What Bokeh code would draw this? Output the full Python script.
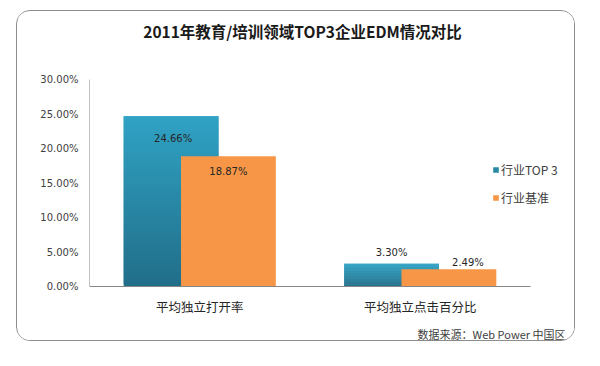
from bokeh.plotting import figure
from bokeh.models import (ColumnDataSource, Range1d, FixedTicker, Label,
                          NumeralTickFormatter, Legend, LegendItem)
from bokeh.core.properties import value
from bokeh.embed import file_html
from bokeh.resources import INLINE

# ---- data ----
categories = ["平均独立打开率", "平均独立点击百分比"]
series_names = ["行业TOP 3", "行业基准"]
top3_values = [0.2466, 0.0330]
baseline_values = [0.1887, 0.0249]
top3_labels = ["24.66%", "3.30%"]
baseline_labels = ["18.87%", "2.49%"]
y_ticks = [0.0, 0.05, 0.10, 0.15, 0.20, 0.25, 0.30]
y_max = 0.30
title_text = "2011年教育/培训领域TOP3企业EDM情况对比"
source_text = "数据来源：Web Power 中国区"

# ---- styles / layout ----
TEAL_LIGHT = (0x30, 0xa2, 0xc4)
TEAL_DARK = (0x21, 0x6e, 0x88)
ORANGE = "#f79646"
CJK = "Noto Sans CJK SC"
NUM = "DejaVu Sans"
AXIS = "#868686"
W, H = 559, 331
LEFT = 72          # width of the y-axis panel
TOP_PX = 68        # canvas y of the top tick
ZERO_PX = 275      # canvas y of the zero line
AXIS_PX = 441      # pixel length of the category axis
OFF = 0.13
BW = 0.43

top3_dx = [2, 0]
top3_dy = [22, -11]
base_dx = [0, 19]
base_dy = [15, -7]

px_per_unit = (ZERO_PX - TOP_PX) / y_max
y_start = -(H - ZERO_PX) / px_per_unit
y_end = y_max + TOP_PX / px_per_unit
ncat = len(categories)
x_end = ncat * (W - LEFT) / AXIS_PX


def lerp(c1, c2, t):
    return "#%02x%02x%02x" % tuple(int(round(a + (b - a) * t)) for a, b in zip(c1, c2))


xpos = [i + 0.5 for i in range(ncat)]

p = figure(width=W, height=H,
           x_range=Range1d(0, x_end), y_range=Range1d(y_start, y_end),
           output_backend="svg", toolbar_location=None,
           min_border_left=LEFT, min_border_right=0,
           min_border_top=0, min_border_bottom=0)
p.title.visible = False
p.styles = {"margin-left": "16px", "margin-top": "10px",
            "border": "1px solid #8c8c8c", "border-radius": "14px",
            "overflow": "hidden"}
p.outline_line_color = None
p.xgrid.grid_line_color = None
p.ygrid.grid_line_color = None
p.background_fill_color = "white"
p.border_fill_color = "white"

# gradient teal bars built from overlapping slices of each value
N = 60
g = dict(x=[], top=[], bottom=[], color=[])
for xp, v in zip(xpos, top3_values):
    for k in range(N):
        g["x"].append(xp - OFF)
        g["bottom"].append(v * k / N)
        g["top"].append(min(v, v * (k + 2) / N))
        g["color"].append(lerp(TEAL_DARK, TEAL_LIGHT, (k + 0.5) / N))
teal = p.vbar(x="x", top="top", bottom="bottom", width=BW,
              fill_color="color", line_color=None, source=ColumnDataSource(g))

bsrc = ColumnDataSource(dict(x=[xp + OFF for xp in xpos], top=baseline_values))
orange = p.vbar(x="x", top="top", width=BW, fill_color=ORANGE, line_color=None,
                source=bsrc)

# axis lines limited to the value range / category span
p.segment(x0=[0, 0], y0=[0, 0], x1=[ncat, 0], y1=[0, y_max],
          line_color=AXIS, line_width=1)

# data labels
lsrc1 = ColumnDataSource(dict(x=[xp - OFF for xp in xpos], y=top3_values,
                              t=top3_labels, dx=top3_dx, dy=top3_dy))
p.text(x="x", y="y", text="t", x_offset="dx", y_offset="dy", source=lsrc1,
       text_align="center", text_baseline="middle",
       text_font=value(NUM), text_font_size="10px", text_color="#262626")
lsrc2 = ColumnDataSource(dict(x=[xp + OFF for xp in xpos], y=baseline_values,
                              t=baseline_labels, dx=base_dx, dy=base_dy))
p.text(x="x", y="y", text="t", x_offset="dx", y_offset="dy", source=lsrc2,
       text_align="center", text_baseline="middle",
       text_font=value(NUM), text_font_size="10px", text_color="#262626")

# axes
p.yaxis.ticker = FixedTicker(ticks=y_ticks)
p.yaxis.formatter = NumeralTickFormatter(format="0.00%")
p.xaxis.ticker = FixedTicker(ticks=xpos)
p.xaxis.major_label_overrides = {xp: c for xp, c in zip(xpos, categories)}
p.xaxis.fixed_location = 0
for ax in (p.xaxis[0], p.yaxis[0]):
    ax.axis_line_color = None
    ax.major_tick_line_color = None
    ax.minor_tick_line_color = None
    ax.major_tick_out = 0
    ax.major_tick_in = 0
p.yaxis.major_label_text_font = NUM
p.yaxis.major_label_text_font_size = "10px"
p.yaxis.major_label_text_color = "#404040"
p.yaxis.major_label_standoff = 11
p.xaxis.major_label_text_font = CJK
p.xaxis.major_label_text_font_size = "12.5px"
p.xaxis.major_label_text_color = "#262626"
p.xaxis.major_label_standoff = 10

# legend
legend = Legend(items=[LegendItem(label=series_names[0], renderers=[teal], index=N // 2),
                       LegendItem(label=series_names[1], renderers=[orange], index=0)],
                location=(403, 136), orientation="vertical",
                glyph_width=7, glyph_height=7, label_height=14, spacing=11,
                label_standoff=2, padding=0, margin=0,
                border_line_color=None, background_fill_alpha=0,
                label_text_font=CJK, label_text_font_size="12px",
                label_text_color="#404040")
p.add_layout(legend, "center")

# title and source
p.add_layout(Label(x=213, y=312, x_units="screen", y_units="screen", text=title_text,
                   text_align="center", text_baseline="middle",
                   text_font=CJK, text_font_style="bold", text_font_size="15.5px",
                   text_color="#1a1a1a"))
p.add_layout(Label(x=476, y=9, x_units="screen", y_units="screen", text=source_text,
                   text_align="right", text_baseline="middle",
                   text_font=CJK, text_font_size="11px", text_color="#404040"))

open("out.html", "w").write(file_html(p, INLINE))
